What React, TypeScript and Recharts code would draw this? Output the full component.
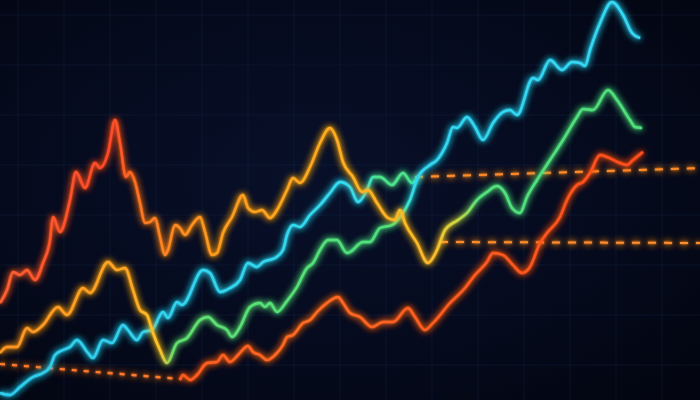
import { LineChart, Line, XAxis, YAxis, CartesianGrid } from 'recharts';

// values: [time, level] (level grows upwards)
const upperLine: [number, number][] = [
  [0, 97], [7, 110], [13, 128], [20, 125], [27, 130], [35, 120], [43, 137], [50, 160], [53, 183],
  [60, 168], [70, 200], [76, 228], [85, 212], [95, 237], [100, 232], [108, 247], [115, 280],
  [120, 257], [126, 223], [130, 228], [135, 218], [140, 197], [145, 177], [150, 178], [155, 182],
  [160, 163], [165, 145], [168, 150], [175, 175], [180, 172], [185, 165], [192, 175], [200, 183],
  [205, 168], [212, 145], [217, 147], [223, 167], [232, 183], [243, 205], [248, 192], [255, 188],
  [262, 190], [270, 182], [277, 190], [287, 210], [293, 222], [300, 217], [310, 233], [320, 257],
  [330, 272], [337, 260], [343, 238], [353, 223], [362, 208], [368, 210], [377, 197], [388, 182],
  [395, 180], [400, 190], [405, 177], [417, 157], [428, 137], [437, 150], [445, 170], [458, 180],
  [467, 187], [477, 200], [487, 208], [497, 214], [505, 207], [512, 192], [520, 187], [527, 203],
  [537, 220], [550, 240], [563, 260], [577, 283], [583, 291], [593, 290], [608, 310], [617, 300],
  [630, 280], [635, 273], [642, 272],
];

const risingLine: [number, number][] = [
  [0, 47], [7, 53], [17, 53], [27, 72], [33, 68], [43, 75], [58, 93], [67, 85], [83, 112], [90, 107],
  [108, 138], [117, 130], [125, 132], [133, 110], [140, 90], [147, 85], [153, 67], [160, 50],
  [167, 37], [177, 57], [187, 62], [200, 80], [208, 83], [217, 75], [227, 70], [232, 63], [240, 73],
  [250, 93], [260, 97], [265, 93], [270, 97], [277, 88], [287, 99], [297, 113], [307, 132],
  [313, 137], [320, 150], [328, 160], [337, 160], [347, 147], [350, 148], [363, 158], [370, 158],
  [380, 172], [392, 175], [400, 183], [410, 200], [418, 223], [430, 235], [437, 240], [447, 257],
  [453, 273], [457, 272], [467, 283], [475, 273], [483, 260], [493, 277], [503, 288], [510, 290],
  [517, 285], [533, 322], [538, 320], [550, 340], [562, 330], [572, 338], [580, 337], [585, 334],
  [590, 350], [600, 377], [612, 398], [623, 385], [632, 367], [640, 362],
];

const lowerCyan: [number, number][] = [
  [0, 7], [10, 5], [20, 13], [33, 23], [43, 27], [50, 33], [55, 45], [63, 50], [70, 53], [77, 60],
  [88, 47], [93, 42], [103, 60], [112, 57], [123, 75], [128, 70], [137, 60], [143, 68], [152, 70],
  [163, 88], [168, 82], [177, 98], [182, 95], [203, 130], [210, 127], [220, 108], [230, 112],
  [240, 120], [248, 137], [257, 133], [263, 138], [275, 142], [283, 150], [287, 165], [293, 175],
  [300, 173], [310, 185], [320, 195], [330, 207], [340, 218], [350, 213], [358, 198], [367, 210],
  [373, 223], [380, 223], [392, 215], [403, 227], [412, 217], [418, 223],
];

const bottomLine: [number, number][] = [
  [180, 20], [183, 25], [190, 20], [197, 25], [207, 37], [217, 38], [223, 45], [230, 38], [238, 45],
  [248, 54], [253, 48], [260, 45], [267, 40], [275, 45], [283, 55], [287, 63], [293, 65], [303, 77],
  [310, 80], [317, 88], [327, 97], [338, 103], [343, 97], [350, 87], [360, 83], [372, 73], [383, 78],
  [393, 78], [408, 92], [415, 83], [425, 70], [433, 77], [450, 97], [465, 112], [475, 125],
  [487, 138], [493, 147], [503, 145], [513, 135], [522, 127], [530, 133], [540, 157], [547, 167],
  [560, 183], [567, 200], [577, 215], [583, 218], [590, 227], [600, 245], [607, 243], [620, 237],
  [627, 235], [633, 240], [643, 248],
];

const baselineLeft: [number, number][] = [[0, 36], [180, 21]];
const levelHigh: [number, number][] = [[415, 223], [700, 232]];
const levelMid: [number, number][] = [[440, 158], [700, 157]];

const toRows = (pts: [number, number][]) => pts.map(([x, v]) => ({ x, v }));

const gridX = Array.from({ length: 16 }, (_, i) => 18 + i * 46);
const gridY = Array.from({ length: 9 }, (_, i) => 15 + i * 50);

export default function App() {
  return (
    <div
      style={{
        position: 'absolute',
        left: 0,
        top: 0,
        width: 700,
        height: 400,
        background: 'radial-gradient(ellipse at 45% 45%, #081029 0%, #050a1d 55%, #02050f 100%)',
      }}
    >
      <style>{`.recharts-line-curve { filter: url(#glow); }`}</style>
      <LineChart width={700} height={400} margin={{ top: 0, right: 0, bottom: 0, left: 0 }}>
        <defs>
          <filter id="glow" filterUnits="userSpaceOnUse" x="0" y="0" width="700" height="400">
            <feGaussianBlur in="SourceGraphic" stdDeviation="3.5" result="b1" />
            <feGaussianBlur in="SourceGraphic" stdDeviation="1.2" result="b2" />
            <feMerge>
              <feMergeNode in="b1" />
              <feMergeNode in="b1" />
              <feMergeNode in="b2" />
              <feMergeNode in="SourceGraphic" />
            </feMerge>
          </filter>
          <linearGradient id="gUpper" gradientUnits="userSpaceOnUse" x1="0" y1="0" x2="700" y2="0">
            <stop offset={0} stopColor="#ff6030" />
            <stop offset={110 / 700} stopColor="#ff4a26" />
            <stop offset={145 / 700} stopColor="#ff7c22" />
            <stop offset={210 / 700} stopColor="#ff9a1e" />
            <stop offset={320 / 700} stopColor="#ffaa20" />
            <stop offset={435 / 700} stopColor="#ffbe2a" />
            <stop offset={458 / 700} stopColor="#c8dc44" />
            <stop offset={478 / 700} stopColor="#52e27c" />
            <stop offset={1} stopColor="#4de07c" />
          </linearGradient>
          <linearGradient id="gRising" gradientUnits="userSpaceOnUse" x1="0" y1="0" x2="700" y2="0">
            <stop offset={0} stopColor="#ff9422" />
            <stop offset={130 / 700} stopColor="#ffa822" />
            <stop offset={160 / 700} stopColor="#ffc42a" />
            <stop offset={174 / 700} stopColor="#62e070" />
            <stop offset={390 / 700} stopColor="#4ce27e" />
            <stop offset={405 / 700} stopColor="#3ee6c4" />
            <stop offset={416 / 700} stopColor="#30d8f2" />
            <stop offset={1} stopColor="#38d8f5" />
          </linearGradient>
          <linearGradient id="gCyan" gradientUnits="userSpaceOnUse" x1="0" y1="0" x2="700" y2="0">
            <stop offset={0} stopColor="#2ecdee" />
            <stop offset={364 / 700} stopColor="#35dcf0" />
            <stop offset={376 / 700} stopColor="#4de48c" />
            <stop offset={1} stopColor="#4de48c" />
          </linearGradient>
          <linearGradient id="gBottom" gradientUnits="userSpaceOnUse" x1="0" y1="0" x2="700" y2="0">
            <stop offset={180 / 700} stopColor="#ff5a1f" />
            <stop offset={310 / 700} stopColor="#ff6c22" />
            <stop offset={420 / 700} stopColor="#ff5e20" />
            <stop offset={1} stopColor="#ff4a1e" />
          </linearGradient>
        </defs>
        <CartesianGrid
          stroke="#16284a"
          strokeOpacity={0.35}
          verticalPoints={gridX}
          horizontalPoints={gridY}
        />
        <XAxis type="number" dataKey="x" domain={[0, 700]} hide allowDataOverflow />
        <YAxis type="number" dataKey="v" domain={[0, 400]} hide allowDataOverflow />
        <Line data={toRows(baselineLeft)} dataKey="v" type="linear" stroke="#ff7a2a" strokeWidth={2.2}
          strokeDasharray="5 7" dot={false} activeDot={false} isAnimationActive={false} />
        <Line data={toRows(levelHigh)} dataKey="v" type="linear" stroke="#ff8c2a" strokeWidth={2}
          strokeDasharray="8 8" dot={false} activeDot={false} isAnimationActive={false} />
        <Line data={toRows(levelMid)} dataKey="v" type="linear" stroke="#ff8c2a" strokeWidth={2}
          strokeDasharray="8 8" dot={false} activeDot={false} isAnimationActive={false} />
        <Line data={toRows(bottomLine)} dataKey="v" type="monotone" stroke="url(#gBottom)" strokeWidth={2.4}
          dot={false} activeDot={false} isAnimationActive={false} />
        <Line data={toRows(lowerCyan)} dataKey="v" type="monotone" stroke="url(#gCyan)" strokeWidth={2.4}
          dot={false} activeDot={false} isAnimationActive={false} />
        <Line data={toRows(risingLine)} dataKey="v" type="monotone" stroke="url(#gRising)" strokeWidth={2.4}
          dot={false} activeDot={false} isAnimationActive={false} />
        <Line data={toRows(upperLine)} dataKey="v" type="monotone" stroke="url(#gUpper)" strokeWidth={2.4}
          dot={false} activeDot={false} isAnimationActive={false} />
      </LineChart>
    </div>
  );
}
